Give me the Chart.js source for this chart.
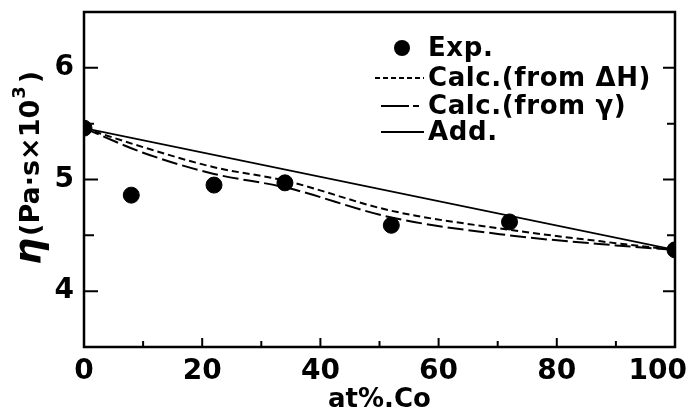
<!DOCTYPE html>
<html><head><meta charset="utf-8">
<script src="https://cdn.jsdelivr.net/npm/chart.js@4/dist/chart.umd.min.js"></script>
<style>html,body{margin:0;padding:0;background:#fff}#wrap{width:695px;height:416px}</style>
</head><body><div id="wrap"><canvas id="c" width="695" height="416"></canvas></div>
<script>
// Data (x = at% Co, y = viscosity η in Pa·s×10^3)
const expX = [0, 8, 22, 34, 52, 72, 100];
const expY = [5.46, 4.86, 4.95, 4.97, 4.59, 4.62, 4.37];
const calcX = [0, 10, 22, 34, 52, 72, 90, 100];
const calcDH = [5.46, 5.29, 5.11, 4.99, 4.72, 4.55, 4.43, 4.37];
const calcGamma = [5.46, 5.24, 5.05, 4.93, 4.66, 4.50, 4.41, 4.37];
const addX = [0, 100];
const addY = [5.46, 4.37];
const xTicks = [0, 20, 40, 60, 80, 100];
const yTicks = [4, 5, 6];

const pts = (xs, ys) => xs.map((x, i) => ({x, y: ys[i]}));
const FONT = '"DejaVu Sans", sans-serif';

const framePlugin = {
  id: 'frame',
  afterDraw(chart) {
    const {ctx, chartArea: a, scales: {x, y}} = chart;
    ctx.save();
    ctx.strokeStyle = '#000';
    ctx.lineWidth = 2.5;
    ctx.strokeRect(a.left, a.top, a.right - a.left, a.bottom - a.top);
    ctx.lineWidth = 2;
    // left & right inside ticks
    [4, 4.5, 5, 5.5, 6].forEach(v => {
      const py = y.getPixelForValue(v);
      const major = Number.isInteger(v);
      ctx.beginPath();
      ctx.moveTo(a.left, py); ctx.lineTo(a.left + (major ? 14 : 10), py);
      ctx.moveTo(a.right, py); ctx.lineTo(a.right - (major ? 12 : 8), py);
      ctx.stroke();
    });
    // bottom inside ticks
    for (let v = 10; v < 100; v += 10) {
      const px = x.getPixelForValue(v);
      const major = v % 20 === 0;
      ctx.beginPath();
      ctx.moveTo(px, a.bottom); ctx.lineTo(px, a.bottom - (major ? 9 : 6));
      ctx.stroke();
    }
    // x tick labels (last one kept inside the canvas)
    ctx.fillStyle = '#000';
    ctx.font = 'bold 28px ' + FONT;
    ctx.textBaseline = 'middle';
    ctx.textAlign = 'center';
    xTicks.forEach(v => {
      const t = String(v);
      const w = ctx.measureText(t).width;
      let px = x.getPixelForValue(v);
      if (px + w / 2 > chart.width - 8) px = chart.width - 8 - w / 2;
      ctx.fillText(t, px, a.bottom + 25);
    });
    // y axis title (mixed sizes)
    ctx.translate(31, 265);
    ctx.rotate(-Math.PI / 2);
    ctx.textBaseline = 'middle';
    ctx.textAlign = 'left';
    ctx.font = 'italic bold 38px ' + FONT;
    ctx.fillText('η', 0, 0);
    let cx = ctx.measureText('η').width + 2;
    ctx.font = 'bold 27px ' + FONT;
    ctx.fillText('(Pa·s×10', cx, 1);
    cx += ctx.measureText('(Pa·s×10').width + 1;
    ctx.font = 'bold 18px ' + FONT;
    ctx.fillText('3', cx, -11);
    cx += ctx.measureText('3').width + 3;
    ctx.font = 'bold 27px ' + FONT;
    ctx.fillText(')', cx, 1);
    ctx.restore();

    // legend
    ctx.save();
    ctx.fillStyle = '#000';
    ctx.strokeStyle = '#000';
    ctx.font = 'bold 26px ' + FONT;
    try { ctx.letterSpacing = '0.6px'; } catch (e) {}
    ctx.textBaseline = 'middle';
    const tx = 428;
    const rows = [
      {label: 'Exp.', y: 48, kind: 'dot'},
      {label: 'Calc.(from ΔH)', y: 78, kind: 'dash'},
      {label: 'Calc.(from γ)', y: 106, kind: 'long'},
      {label: 'Add.', y: 132, kind: 'solid'}
    ];
    rows.forEach(r => {
      if (r.kind === 'dot') {
        ctx.beginPath(); ctx.arc(402, r.y, 8, 0, 2 * Math.PI); ctx.fill();
      } else {
        ctx.lineWidth = 2;
        ctx.setLineDash(r.kind === 'dash' ? [5, 3] : r.kind === 'long' ? [28, 4, 6, 100] : []);
        ctx.beginPath();
        ctx.moveTo(r.kind === 'dash' ? 375 : 381, r.y);
        ctx.lineTo(424, r.y);
        ctx.stroke();
        ctx.setLineDash([]);
      }
      ctx.fillText(r.label, tx, r.y + 1);
    });
    ctx.restore();
  }
};

new Chart(document.getElementById('c'), {
  type: 'scatter',
  data: {
    datasets: [
      {label: 'Calc.(from ΔH)', data: pts(calcX, calcDH), showLine: true, borderColor: '#000', borderWidth: 2, borderDash: [7, 4], pointRadius: 0, tension: 0.4, cubicInterpolationMode: 'monotone'},
      {label: 'Calc.(from γ)', data: pts(calcX, calcGamma), showLine: true, borderColor: '#000', borderWidth: 2, borderDash: [16, 5], pointRadius: 0, tension: 0.4, cubicInterpolationMode: 'monotone'},
      {label: 'Add.', data: pts(addX, addY), showLine: true, borderColor: '#000', borderWidth: 1.6, pointRadius: 0},
      {label: 'Exp.', data: pts(expX, expY), showLine: false, backgroundColor: '#000', borderColor: '#000', pointRadius: 8, pointHoverRadius: 8}
    ]
  },
  options: {
    responsive: false,
    animation: false,
    events: [],
    layout: {padding: {top: 12, right: 20, left: 0, bottom: 0}},
    plugins: {legend: {display: false}, tooltip: {enabled: false}},
    scales: {
      x: {
        type: 'linear', min: 0, max: 100,
        grid: {display: false, drawTicks: false},
        border: {display: false},
        afterBuildTicks: s => { s.ticks = xTicks.map(v => ({value: v})); },
        afterFit: s => { s.height = 69; s.paddingLeft = 0; s.paddingRight = 0; },
        ticks: {display: false},
        title: {display: true, text: 'at%.Co', color: '#000', font: {family: FONT, size: 26, weight: 'bold'}, padding: {top: 0, bottom: 0}}
      },
      y: {
        type: 'linear', min: 3.5, max: 6.5,
        grid: {display: false, drawTicks: false},
        border: {display: false},
        afterBuildTicks: s => { s.ticks = yTicks.map(v => ({value: v})); },
        afterFit: s => { s.width = 84; s.paddingTop = 0; s.paddingBottom = 0; },
        ticks: {color: '#000', font: {family: FONT, size: 28, weight: 'bold'}, padding: 10}
      }
    }
  },
  plugins: [framePlugin]
});
</script>
</body></html>
